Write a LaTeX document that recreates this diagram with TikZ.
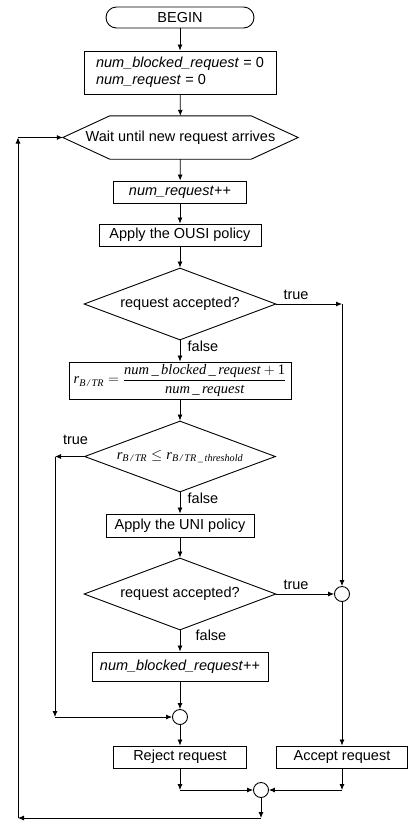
\documentclass[tikz,border=0pt]{standalone}
\usepackage{fontspec}
\usepackage{amsmath}
\setmainfont{Liberation Sans}
\newfontfamily\tms{Liberation Serif}
\usetikzlibrary{shapes.geometric,arrows.meta,calc}
\newcommand{\tmi}[1]{\text{\tms\itshape #1}}
\begin{document}
\begin{tikzpicture}[x=1pt,y=-1pt,
  font=\fontsize{14.5}{17}\selectfont,
  box/.style={draw, line width=0.9pt, inner sep=2pt},
  dec/.style={draw, diamond, line width=0.9pt, inner sep=0pt, aspect=2.67, minimum width=192pt, minimum height=72pt},
  junc/.style={draw, circle, line width=0.9pt, minimum size=15pt, inner sep=0pt},
  flow/.style={line width=0.8pt, -{Latex[length=6pt,width=5pt]}},
  lab/.style={inner sep=0pt}]
\useasboundingbox (0,0) rectangle (408,823);

\node[box, rounded corners=10.5pt, minimum width=148pt, minimum height=21pt] (begin) at (180,17.5) {BEGIN};
\node[box, minimum width=192pt, minimum height=43pt, align=left] (init) at (180,72.5) {\textit{num\_blocked\_request} = 0\\\textit{num\_request} = 0};
\node[minimum width=235pt, minimum height=43pt, inner sep=0pt] (wait) at (180.5,137.5) {Wait until new request arrives};
\draw[line width=0.9pt] (wait.west) -- ([xshift=47pt]wait.north west) -- ([xshift=-47pt]wait.north east) -- (wait.east) -- ([xshift=-47pt]wait.south east) -- ([xshift=47pt]wait.south west) -- cycle;
\node[box, minimum width=133pt, minimum height=22pt] (inc) at (180,192) {\textit{num\_request}++};
\node[box, minimum width=162pt, minimum height=22pt] (ousi) at (180,235) {Apply the OUSI policy};
\node[dec] (d1) at (180,304) {request accepted?};
\node[box, minimum width=222pt, minimum height=37pt, inner sep=1pt] (rb) at (180,380.5)
  {$\tmi{r}_{\tmi{B\,/\,TR}} = \dfrac{\tmi{num\,\_\,blocked\,\_\,request} + \text{\tms 1}}{\tmi{num\,\_\,request}}$};
\node[dec, minimum width=191pt, minimum height=71pt] (d2) at (180,456.5)
  {$\tmi{r}_{\tmi{B\,/\,TR}} \le \tmi{r}_{\tmi{B\,/\,TR\,\_\,threshold}}$};
\node[box, minimum width=148pt, minimum height=23pt] (uni) at (180,525.5) {Apply the UNI policy};
\node[dec] (d3) at (180,594) {request accepted?};
\node[junc] (c1) at (342,594) {};
\node[box, minimum width=176pt, minimum height=29pt] (blk) at (180,666.5) {\textit{num\_blocked\_request}++};
\node[junc] (c2) at (180,717) {};
\node[box, minimum width=133pt, minimum height=22pt] (rej) at (180,757) {Reject request};
\node[box, minimum width=131pt, minimum height=22pt] (acc) at (342,757) {Accept request};
\node[junc] (c3) at (261,790) {};

\coordinate (t1) at (342,304);
\coordinate (t2) at (55,456.5);
\coordinate (t3) at (55,717);
\coordinate (rj) at (180,790);
\coordinate (aj) at (342,790);
\coordinate (b1) at (261,818);
\coordinate (b2) at (18,818);
\coordinate (b3) at (18,137.5);

\draw[flow] (begin) -- (init);
\draw[flow] (init) -- (wait);
\draw[flow] (wait) -- (inc);
\draw[flow] (inc) -- (ousi);
\draw[flow] (ousi) -- (d1);
\draw[flow] (d1.east) -- (t1);
\draw[flow] (t1) -- (c1);
\draw[flow] (d1) -- (rb);
\draw[flow] (rb) -- (d2);
\draw[flow] (d2.west) -- (t2);
\draw[flow] (t2) -- (t3);
\draw[flow] (t3) -- (c2);
\draw[flow] (d2) -- (uni);
\draw[flow] (uni) -- (d3);
\draw[flow] (d3.east) -- (c1);
\draw[flow] (d3) -- (blk);
\draw[flow] (blk) -- (c2);
\draw[flow] (c2) -- (rej);
\draw[flow] (c1) -- (acc);
\draw[flow] (rej) -- (rj);
\draw[flow] (rj) -- (c3);
\draw[flow] (acc) -- (aj);
\draw[flow] (aj) -- (c3);
\draw[flow] (c3) -- (b1);
\draw[flow] (b1) -- (b2);
\draw[flow] (b2) -- (b3);
\draw[flow] (b3) -- (wait.west);

\node[lab] (l1) at (296,295) {true};
\node[lab] (l2) at (203,346) {false};
\node[lab] (l3) at (75.5,440) {true};
\node[lab] (l4) at (203,498) {false};
\node[lab] (l5) at (296,585) {true};
\node[lab] (l6) at (211,635) {false};
\end{tikzpicture}
\end{document}
